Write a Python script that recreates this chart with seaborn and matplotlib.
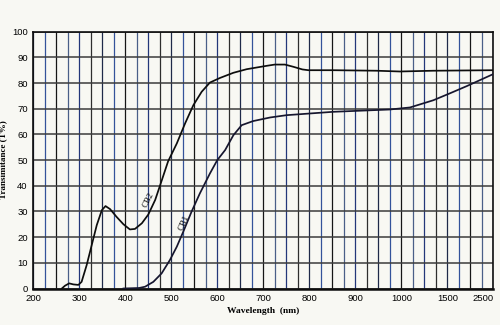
import numpy as np
import pandas as pd
import matplotlib
matplotlib.use("Agg")
import matplotlib.pyplot as plt
from matplotlib.ticker import FixedLocator, FixedFormatter
import seaborn as sns

# ---- data ----
cb2_wl = [262, 269, 278, 287, 298, 305, 316, 327, 338, 349, 357, 367, 381, 396, 410, 421,
          436, 450, 465, 480, 493, 512, 530, 548, 566, 584, 606, 635, 664, 707, 725, 747,
          766, 785, 798, 852, 946, 997, 1348, 2500]
cb2_t = [0, 1.1, 2.0, 1.6, 1.4, 2.6, 9.1, 16.9, 24.7, 30.5, 32.1, 30.9, 27.9, 25.0, 23.0, 23.2,
         25.4, 28.8, 34.5, 42.5, 49.5, 56.5, 64.3, 71.4, 76.6, 80.2, 82.0, 84.0, 85.4, 86.7, 87.2, 87.2,
         86.3, 85.3, 85.0, 85.0, 84.8, 84.5, 84.8, 85.0]
cb1_wl = [395, 430, 443, 461, 479, 497, 512, 526, 544, 562, 584, 600, 617, 635, 653, 678,
          715, 751, 852, 975, 1095, 1348, 1557, 1922, 2500]
cb1_t = [0, 0.2, 0.7, 2.6, 5.9, 11.1, 16.3, 22.1, 29.9, 37.0, 44.8, 50.0, 53.9, 59.7, 63.6, 65.2,
         66.6, 67.5, 68.8, 69.7, 70.5, 73.3, 76.0, 78.8, 83.5]

x_ticks = [200, 300, 400, 500, 600, 700, 800, 900, 1000, 1500, 2500]
x_tick_labels = ["200", "300", "400", "500", "600", "700", "800", "900", "1000", "1500", "2500"]
y_ticks = list(range(0, 101, 10))

# piecewise-linear wavelength axis (200-1000 linear, then compressed)
BRK_W = [200, 1000, 1500, 2500]
BRK_P = [0, 32, 36, 40]


def fwd(w):
    return np.interp(np.asarray(w, dtype=float), BRK_W, BRK_P)


def inv(p):
    return np.interp(np.asarray(p, dtype=float), BRK_P, BRK_W)


df = pd.concat([
    pd.DataFrame({"wl": cb2_wl, "T": cb2_t, "filter": "CB2"}),
    pd.DataFrame({"wl": cb1_wl, "T": cb1_t, "filter": "CB1"}),
], ignore_index=True)

sns.set_style("white")
plt.rcParams["font.family"] = ["Liberation Sans Narrow", "Liberation Sans", "DejaVu Sans"]

BG = "#f8f8f3"
fig = plt.figure(figsize=(5.0, 3.25), dpi=100, facecolor=BG)
ax = fig.add_axes([0.0666, 0.1123, 0.92, 0.7902])
ax.set_facecolor(BG)
ax.set_xscale("function", functions=(fwd, inv))

sns.lineplot(data=df, x="wl", y="T", hue="filter", palette={"CB2": "#0d0d0d", "CB1": "#16162e"},
             estimator=None, sort=False, linewidth=1.25, legend=False, ax=ax, zorder=5)

ax.set_xlim(200, 2500)
ax.set_ylim(0, 100)

# grid: one vertical line per grid step, labels only at the named wavelengths
grid_w = [float(v) for v in inv(np.arange(41))]
label_map = dict(zip(x_ticks, x_tick_labels))
grid_labels = [label_map.get(int(round(v)), "") for v in grid_w]
ax.xaxis.set_major_locator(FixedLocator(grid_w))
ax.xaxis.set_major_formatter(FixedFormatter(grid_labels))
ax.xaxis.set_minor_locator(FixedLocator([]))
ax.set_yticks(y_ticks)
ax.set_yticks([], minor=True)
ax.grid(True, axis="x", which="major", linewidth=0.9)
ax.grid(True, axis="y", which="major", color="#3c3c3c", linewidth=1.1)
ax.set_axisbelow(True)

ax.tick_params(axis="both", which="both", length=0, labelsize=6.8, colors="#000000")
ax.tick_params(axis="x", pad=4)
ax.tick_params(axis="y", pad=4)

fig.canvas.draw()
vcols = ["#1f2a4a", "#34539a", "#161616", "#4a5f88", "#23377a", "#2e2e2e"]
for i, t in enumerate(ax.xaxis.get_major_ticks()):
    t.gridline.set_color(vcols[i % len(vcols)])
    t.gridline.set_alpha(1.0)
    if t.label1.get_text() == "2500":
        t.label1.set_horizontalalignment("right")

for side in ["left", "top", "right"]:
    ax.spines[side].set_color("#0d0d0d")
    ax.spines[side].set_linewidth(1.2)
ax.spines["bottom"].set_color("#0d0d0d")
ax.spines["bottom"].set_linewidth(1.8)

serif = ["Liberation Serif", "DejaVu Serif"]
ax.set_xlabel("Wavelength  (nm)", family=serif, fontsize=6.8, fontweight="bold", color="#000000",
              labelpad=3)
ax.set_ylabel("Transimitance (T%)", family=serif, fontsize=6.5, fontweight="bold", color="#000000")
ax.yaxis.set_label_coords(-0.056, 0.5)

ax.text(450, 34.4, "CB2", family=serif, fontsize=6.3, rotation=63, ha="center", va="center",
        color="#000000", zorder=6)
ax.text(527, 25.5, "CB1", family=serif, fontsize=6.3, rotation=66, ha="center", va="center",
        color="#000000", zorder=6)

fig.savefig("out.png", dpi=100, facecolor=BG)
